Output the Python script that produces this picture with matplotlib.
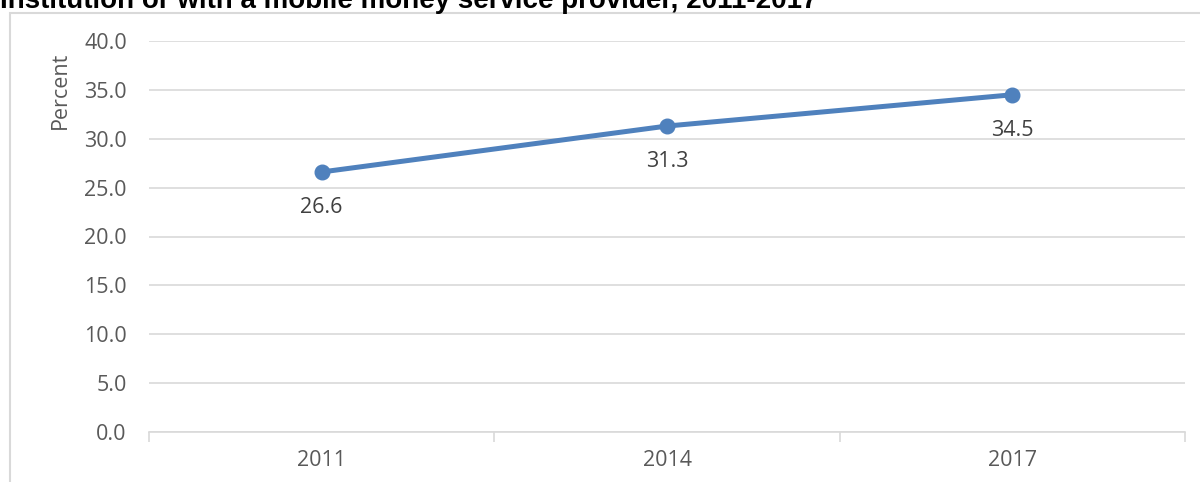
import matplotlib.pyplot as plt
from matplotlib.patches import Rectangle

years = ['2011', '2014', '2017']
percent = [26.6, 31.3, 34.5]
y_ticks = [0, 5, 10, 15, 20, 25, 30, 35, 40]
title = 'Institution or with a mobile money service provider, 2011-2017'

W, H = 1200, 482
plt.rcParams['font.family'] = ['Open Sans', 'DejaVu Sans']

fig = plt.figure(figsize=(W / 100, H / 100), dpi=100)

# outer chart border (partly cropped in the original)
fig.patches.append(Rectangle((10 / W, -0.1), 1.2, 1 - 13 / H + 0.1, transform=fig.transFigure,
                             fill=False, edgecolor='#d9d9d9', linewidth=1.5))
fig.text(0.0, 1 - 8 / H, title, fontsize=20, fontweight='bold', color='black',
         ha='left', va='baseline', family=['Liberation Sans', 'DejaVu Sans'])

ax = fig.add_axes([149 / W, 1 - 432 / H, (1185 - 149) / W, (432 - 41) / H])
x = list(range(len(years)))
ax.plot(x, percent, color='#4f81bd', linewidth=3.6, marker='o', markersize=10.5,
        solid_capstyle='round', zorder=3)
for xi, v in zip(x, percent):
    ax.annotate(f'{v:.1f}', (xi, v), xytext=(0, -18), textcoords='offset points',
                ha='center', va='top', fontsize=15.5, color='#404040')

ax.set_xlim(-0.5, len(years) - 0.5)
ax.set_ylim(0, 40)
ax.set_yticks(y_ticks)
ax.set_yticklabels([f'{t:.1f}' for t in y_ticks])
ax.set_xticks(x)
ax.set_xticklabels(years)
ax.set_xticks([i - 0.5 for i in range(len(years) + 1)], minor=True)
ax.grid(axis='y', color='#d9d9d9', linewidth=1.2)
ax.set_axisbelow(True)
for s in ['top', 'right', 'left']:
    ax.spines[s].set_visible(False)
ax.spines['bottom'].set_color('#d9d9d9')
ax.spines['bottom'].set_linewidth(1.2)
ax.tick_params(axis='y', length=0, pad=16, labelsize=15.5, labelcolor='#595959')
ax.tick_params(axis='x', which='major', length=0, pad=13, labelsize=15.5, labelcolor='#595959')
ax.tick_params(axis='x', which='minor', length=7, color='#d9d9d9', width=1.2)

fig.text(60 / W, 1 - 90 / H, 'Percent', rotation=90, ha='center', va='center',
         fontsize=15.5, color='#595959')

fig.savefig('out.png', dpi=100)
